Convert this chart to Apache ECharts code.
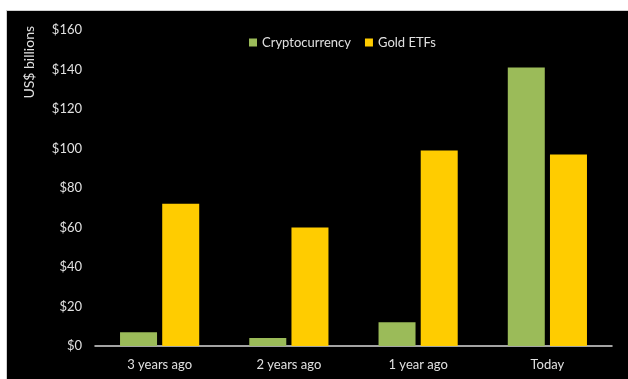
<!DOCTYPE html>
<html><head><meta charset="utf-8">
<script src="https://cdn.jsdelivr.net/npm/echarts@6/dist/echarts.min.js"></script>
<style>html,body{margin:0;padding:0;background:#fff;}#c{position:absolute;left:6px;top:10px;width:622px;height:369px;background:#000;border-top:1px solid #d0d0d0;border-left:1px solid #d0d0d0;box-sizing:border-box;}</style>
</head><body><div id="c"></div>
<script>
const categories = ['3 years ago', '2 years ago', '1 year ago', 'Today'];
const crypto = [7, 4, 12, 141];
const gold = [72, 60, 99, 97];
const yTicks = [0, 20, 40, 60, 80, 100, 120, 140, 160];
const chart = echarts.init(document.getElementById('c'));
const font = 'Lato, "Open Sans", sans-serif';
chart.setOption({
  backgroundColor: '#000',
  animation: false,
  textStyle: {fontFamily: font},
  grid: {left: 88, right: 16, top: 19, bottom: 33},
  legend: {
    top: 20, left: 237, itemWidth: 8, itemHeight: 8, itemGap: 14,
    icon: 'rect',
    textStyle: {color: '#e0e0e0', fontSize: 13, fontFamily: font},
    data: ['Cryptocurrency', 'Gold ETFs']
  },
  graphic: [{
    type: 'text', rotation: Math.PI / 2,
    style: {text: 'US$ billions', fill: '#e0e0e0', font: '14px ' + font, align: 'right', verticalAlign: 'middle'},
    x: 22, y: 14, left: 15, top: 15
  }],
  xAxis: {
    type: 'category', data: categories,
    axisLine: {lineStyle: {color: '#d9d9d9', width: 1.5}},
    axisTick: {show: false},
    axisLabel: {color: '#e0e0e0', fontSize: 13, margin: 12, fontFamily: font}
  },
  yAxis: {
    type: 'value', min: yTicks[0], max: yTicks[yTicks.length - 1], interval: 20,
    axisLine: {show: false}, axisTick: {show: false}, splitLine: {show: false},
    axisLabel: {color: '#e0e0e0', fontSize: 13, margin: 13, fontFamily: font, formatter: v => '$' + v}
  },
  series: [
    {name: 'Cryptocurrency', type: 'bar', data: crypto, barWidth: 37, barGap: '14%', itemStyle: {color: '#9BBB59'}},
    {name: 'Gold ETFs', type: 'bar', data: gold, barWidth: 37, itemStyle: {color: '#FFCC00'}}
  ]
});
</script></body></html>
